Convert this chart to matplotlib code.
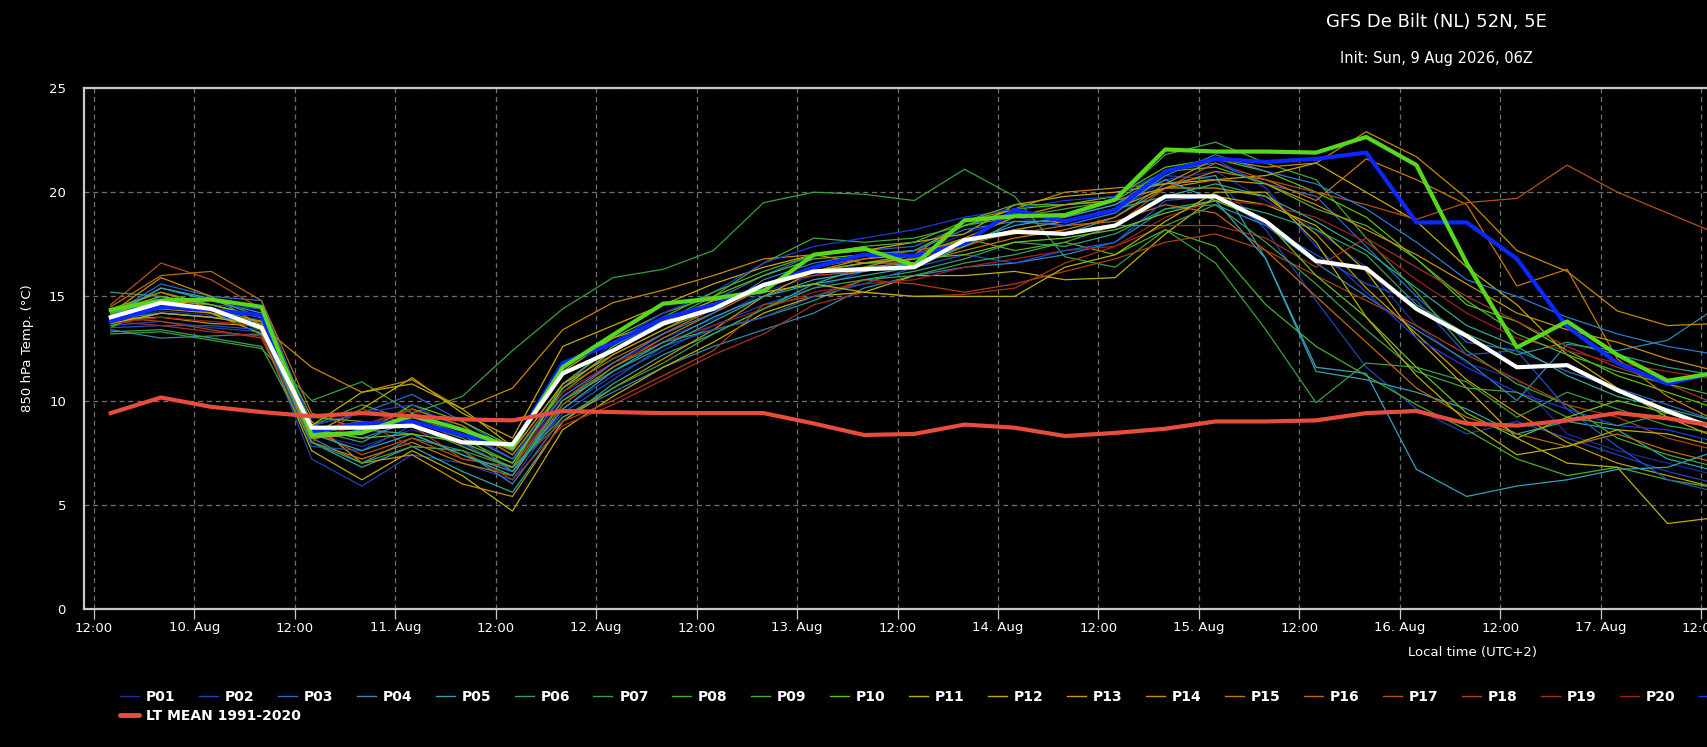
import datetime as dt
import matplotlib
matplotlib.use("Agg")
import matplotlib.pyplot as plt
import matplotlib.dates as mdates
from matplotlib.ticker import FuncFormatter, MultipleLocator
from matplotlib.lines import Line2D

# 6-hourly forecast steps, local time, first step 9 Aug 14:00
start = dt.datetime(2026, 8, 9, 14)
step_hours = 6

# ensemble perturbations, 850 hPa temperature (deg C)
p01 = [13.8, 14.3, 14.1, 13.9, 8.4, 7.8, 8.6, 7.9, 6.8, 10.2, 11.8, 13.0, 13.9, 15.2, 16.0, 16.6, 17.0,
       18.0, 18.8, 18.4, 19.0, 20.6, 21.0, 19.6, 18.2, 16.4, 13.6, 11.8, 11.0, 8.4, 7.6, 7.0, 6.4]
p02 = [13.6, 13.8, 13.5, 13.3, 7.2, 5.9, 7.4, 7.0, 6.2, 9.6, 11.2, 12.4, 13.6, 14.6, 15.4, 16.2, 16.9,
       17.6, 18.2, 18.6, 19.2, 20.8, 20.6, 18.2, 14.8, 11.6, 9.6, 8.4, 9.0, 8.2, 7.4, 6.6, 6.0]
p03 = [14.1, 15.6, 15.0, 14.8, 8.8, 9.4, 10.3, 9.0, 7.6, 10.8, 12.6, 13.8, 14.8, 16.0, 17.0, 17.2, 17.4,
       18.4, 19.0, 18.8, 19.4, 21.0, 21.4, 20.4, 19.8, 17.4, 15.0, 12.8, 12.4, 11.4, 10.6, 9.8, 9.0]
p04 = [13.4, 13.0, 13.1, 13.2, 8.2, 7.0, 8.2, 7.6, 6.0, 9.2, 10.4, 11.6, 12.6, 13.4, 14.2, 15.4, 16.0,
       16.4, 16.6, 17.0, 17.6, 19.2, 19.4, 18.4, 16.6, 15.0, 13.4, 11.9, 10.0, 12.7, 12.4, 12.9, 14.5]
p05 = [14.0, 15.4, 14.8, 14.2, 8.0, 6.8, 7.8, 6.6, 5.6, 9.0, 10.8, 12.2, 13.2, 14.4, 15.6, 16.4, 16.6,
       17.4, 18.2, 18.0, 18.8, 20.4, 20.8, 16.8, 11.4, 11.0, 10.4, 9.6, 8.4, 9.0, 8.6, 7.2, 6.6]
p06 = [15.2, 15.0, 14.2, 13.4, 8.6, 8.0, 9.2, 8.4, 6.6, 10.0, 11.6, 12.8, 13.4, 14.0, 14.8, 15.8, 16.2,
       16.8, 17.6, 17.4, 18.0, 19.2, 19.6, 19.0, 18.2, 17.0, 14.6, 13.2, 12.2, 12.8, 12.2, 11.6, 11.2]
p07 = [13.2, 13.3, 12.9, 12.5, 10.0, 10.9, 9.4, 10.2, 12.4, 14.4, 15.9, 16.3, 17.2, 19.5, 20.0, 19.9, 19.6,
       21.1, 19.8, 16.9, 16.4, 18.2, 16.6, 13.4, 9.9, 11.8, 11.6, 10.9, 9.2, 10.4, 9.6, 8.8, 8.4]
p08 = [13.5, 14.6, 14.4, 13.8, 8.8, 9.8, 9.0, 8.2, 7.0, 10.6, 12.4, 13.8, 15.0, 16.6, 17.8, 17.6, 17.8,
       18.4, 18.8, 19.2, 19.6, 21.8, 22.4, 21.4, 20.6, 17.8, 15.2, 12.4, 10.8, 9.8, 8.2, 7.4, 6.8]
p09 = [13.6, 14.2, 14.0, 13.7, 8.4, 8.8, 9.6, 8.8, 7.4, 10.4, 12.2, 13.4, 14.4, 15.4, 16.2, 16.6, 16.8,
       17.8, 17.2, 17.6, 17.0, 18.2, 17.4, 14.6, 12.6, 11.2, 9.8, 8.6, 7.2, 6.4, 6.8, 6.2, 5.8]
p10 = [14.4, 15.2, 14.6, 14.0, 8.2, 8.4, 9.8, 9.0, 7.8, 11.6, 13.0, 14.2, 15.0, 16.0, 16.8, 17.0, 17.2,
       18.4, 19.2, 19.4, 19.8, 21.2, 21.6, 21.0, 20.0, 18.8, 16.8, 14.6, 13.8, 12.4, 11.2, 10.4, 9.6]
p11 = [14.0, 14.6, 14.2, 13.2, 7.6, 6.2, 7.6, 6.4, 4.7, 8.6, 10.2, 11.6, 12.8, 14.2, 15.0, 15.2, 16.0,
       16.0, 16.2, 15.8, 15.9, 18.0, 19.8, 19.4, 18.4, 16.2, 13.0, 10.6, 8.2, 7.0, 6.8, 4.1, 4.4]
p12 = [14.2, 14.8, 14.6, 14.0, 8.4, 9.6, 11.1, 9.4, 8.2, 12.6, 13.6, 14.6, 15.6, 16.4, 17.0, 17.2, 17.6,
       18.0, 19.4, 19.8, 20.0, 20.4, 20.6, 20.8, 21.4, 20.0, 18.6, 16.4, 14.6, 12.2, 10.6, 9.2, 8.2]
p13 = [13.9, 14.0, 13.7, 13.6, 9.0, 7.0, 7.4, 6.0, 5.4, 9.0, 10.6, 12.0, 13.4, 15.0, 16.2, 16.8, 17.0,
       17.6, 18.2, 18.6, 19.2, 20.2, 20.2, 19.8, 18.0, 15.4, 13.2, 11.0, 9.4, 8.0, 7.0, 6.4, 5.8]
p14 = [14.2, 15.9, 15.0, 13.6, 11.6, 10.4, 11.0, 9.6, 10.6, 13.4, 14.7, 15.3, 16.0, 16.8, 17.0, 16.6, 17.0,
       18.6, 19.2, 20.0, 20.2, 20.4, 21.6, 21.2, 21.4, 22.9, 21.7, 19.7, 17.2, 16.2, 14.3, 13.6, 13.7]
p15 = [14.3, 15.2, 14.4, 13.4, 8.0, 7.2, 8.0, 7.0, 6.4, 9.8, 11.6, 13.0, 14.2, 15.4, 16.2, 16.6, 16.6,
       17.2, 17.8, 18.2, 18.8, 20.2, 21.0, 20.6, 19.6, 21.6, 20.6, 19.4, 15.5, 16.3, 12.0, 10.2, 9.0]
p16 = [14.5, 16.0, 16.2, 14.8, 9.4, 8.6, 9.6, 8.8, 7.4, 10.6, 12.0, 13.2, 14.4, 15.6, 16.4, 16.8, 17.2,
       17.6, 18.0, 18.4, 18.6, 19.4, 19.0, 17.2, 15.0, 12.8, 10.6, 9.2, 8.4, 7.8, 8.4, 7.6, 7.0]
p17 = [14.6, 16.6, 15.8, 14.4, 8.6, 7.4, 8.2, 7.2, 6.8, 10.0, 11.8, 13.2, 14.4, 15.6, 16.0, 16.2, 16.8,
       17.4, 18.2, 18.0, 18.4, 20.2, 21.4, 20.6, 20.0, 19.4, 18.7, 19.5, 19.7, 21.3, 20.0, 19.0, 18.0]
p18 = [14.0, 13.8, 13.4, 13.0, 8.0, 9.6, 8.8, 7.2, 6.8, 9.0, 10.0, 11.2, 12.4, 14.6, 15.0, 15.8, 15.6,
       15.2, 15.6, 16.2, 16.8, 17.6, 18.0, 17.2, 16.0, 14.8, 13.6, 12.2, 11.0, 9.8, 9.2, 8.2, 7.6]
p19 = [13.8, 13.6, 13.3, 13.1, 8.6, 9.0, 7.8, 7.6, 6.2, 8.8, 9.8, 11.0, 12.2, 13.2, 14.6, 15.2, 15.0,
       15.1, 15.4, 16.6, 17.4, 18.4, 18.4, 17.8, 16.4, 17.8, 16.4, 15.0, 13.8, 12.6, 11.6, 10.8, 9.8]
p20 = [13.7, 14.0, 13.8, 13.6, 8.2, 8.8, 9.6, 7.8, 6.8, 10.4, 11.8, 12.8, 13.6, 14.4, 15.2, 15.6, 15.8,
       16.4, 16.8, 17.2, 17.4, 18.8, 19.6, 19.4, 18.8, 17.6, 15.8, 14.2, 13.0, 12.4, 11.8, 11.4, 11.0]
p21 = [14.0, 15.0, 14.6, 14.4, 8.8, 9.4, 9.8, 8.6, 7.2, 10.6, 12.8, 14.2, 15.2, 16.6, 17.4, 17.8, 18.2,
       18.8, 19.2, 19.6, 19.8, 21.0, 21.6, 20.2, 17.4, 15.2, 13.0, 11.6, 10.4, 9.6, 8.8, 8.6, 8.0]
p22 = [13.5, 13.6, 13.6, 13.4, 7.8, 7.6, 8.8, 8.0, 6.6, 9.4, 11.0, 12.6, 13.4, 14.0, 15.0, 15.6, 16.4,
       17.0, 16.6, 17.2, 17.6, 19.6, 19.8, 18.4, 17.0, 15.6, 14.8, 12.2, 12.4, 9.6, 7.8, 6.2, 5.6]
p23 = [13.9, 14.2, 14.0, 13.8, 8.6, 8.2, 9.0, 8.4, 7.2, 10.2, 11.8, 13.2, 14.2, 15.8, 16.6, 17.0, 17.2,
       18.2, 18.6, 18.4, 19.0, 20.8, 21.8, 21.0, 20.4, 19.2, 17.6, 15.8, 15.0, 14.0, 13.2, 12.6, 12.2]
p24 = [14.1, 15.4, 14.9, 14.0, 8.4, 7.6, 8.4, 7.4, 6.6, 9.6, 11.4, 12.8, 14.0, 15.0, 15.8, 16.2, 16.6,
       17.6, 18.4, 18.8, 19.4, 20.6, 19.6, 16.8, 11.6, 11.3, 6.7, 5.4, 5.9, 6.2, 6.7, 6.8, 7.6]
p25 = [14.4, 14.8, 14.4, 13.4, 8.2, 8.6, 8.4, 7.4, 6.4, 10.0, 11.4, 12.6, 13.8, 15.0, 15.6, 16.0, 16.4,
       17.4, 18.6, 18.6, 19.2, 19.8, 20.4, 19.8, 18.6, 17.2, 15.4, 13.6, 12.6, 11.2, 10.2, 9.6, 9.0]
p26 = [13.3, 13.4, 13.0, 12.6, 8.0, 7.0, 7.8, 7.6, 6.8, 9.2, 10.6, 11.8, 13.2, 14.4, 15.4, 15.8, 16.0,
       16.6, 17.0, 17.6, 18.4, 18.4, 19.4, 17.6, 15.6, 13.4, 11.4, 10.6, 10.4, 9.2, 8.8, 9.4, 8.8]
p27 = [14.2, 14.6, 14.4, 14.0, 9.2, 9.0, 8.8, 7.8, 6.8, 10.8, 12.6, 14.0, 15.2, 16.2, 17.0, 17.4, 17.6,
       18.6, 19.4, 19.4, 19.6, 21.0, 21.2, 20.4, 19.2, 18.4, 16.8, 14.8, 13.2, 12.2, 11.4, 10.8, 10.2]
p28 = [14.3, 15.0, 14.6, 14.0, 8.6, 8.2, 8.4, 8.0, 7.0, 10.6, 12.4, 13.6, 14.6, 15.6, 16.2, 16.6, 16.8,
       17.0, 17.6, 17.8, 18.2, 19.0, 19.6, 18.6, 16.0, 14.0, 11.6, 9.4, 8.2, 9.2, 10.0, 9.4, 8.6]
p29 = [13.7, 14.2, 14.0, 13.6, 8.8, 10.4, 10.8, 9.6, 7.8, 11.4, 13.0, 13.8, 14.8, 15.2, 15.6, 15.2, 15.0,
       15.0, 15.0, 16.4, 17.0, 18.6, 20.0, 20.0, 17.6, 14.0, 11.2, 9.0, 7.4, 7.8, 8.6, 8.4, 7.8]
p30 = [14.0, 14.4, 14.2, 13.8, 8.2, 8.4, 9.2, 8.6, 7.6, 10.8, 12.2, 13.4, 14.6, 15.6, 16.2, 16.4, 17.0,
       17.8, 18.8, 19.4, 19.6, 20.2, 20.6, 20.4, 19.4, 18.2, 17.0, 15.6, 14.2, 13.4, 12.8, 12.0, 11.4]

oper = [13.8, 14.5, 14.35, 14.1, 8.5, 8.9, 9.0, 8.35, 7.8, 11.8, 12.75, 13.95, 14.6, 15.5, 16.4, 17.0, 16.95,
        17.55, 19.15, 18.6, 19.15, 21.0, 21.6, 21.45, 21.6, 21.9, 18.55, 18.55, 16.8, 13.55, 11.8, 10.8, 11.4]
control = [14.35, 14.8, 14.85, 14.5, 8.35, 8.45, 9.3, 8.6, 7.75, 11.6, 13.15, 14.65, 14.9, 15.25, 17.0, 17.3, 16.5,
           18.65, 18.85, 18.9, 19.65, 22.05, 21.95, 21.95, 21.9, 22.65, 21.3, 16.6, 12.55, 13.8, 12.2, 10.95, 11.35]
ens_mean = [14.0, 14.7, 14.4, 13.5, 8.7, 8.7, 8.8, 8.0, 7.9, 11.3, 12.4, 13.7, 14.4, 15.55, 16.2, 16.3, 16.4,
            17.7, 18.1, 18.0, 18.4, 19.8, 19.8, 18.6, 16.7, 16.35, 14.4, 13.1, 11.6, 11.7, 10.5, 9.5, 8.6]
lt_mean = [9.4, 10.15, 9.7, 9.45, 9.25, 9.4, 9.25, 9.1, 9.05, 9.5, 9.45, 9.4, 9.4, 9.4, 8.9, 8.35, 8.4,
           8.85, 8.7, 8.3, 8.45, 8.65, 9.0, 9.0, 9.05, 9.4, 9.5, 8.9, 8.8, 9.05, 9.4, 9.15, 8.75]

members = [p01, p02, p03, p04, p05, p06, p07, p08, p09, p10,
           p11, p12, p13, p14, p15, p16, p17, p18, p19, p20,
           p21, p22, p23, p24, p25, p26, p27, p28, p29, p30]
member_names = ['P{:02d}'.format(k + 1) for k in range(len(members))]
member_colors = ['#1f2c9c', '#2242b4', '#2a6cc4', '#3088b4', '#30a4a8',
                 '#30a070', '#38a040', '#40a838', '#48b028', '#60c010',
                 '#c0b000', '#c8a800', '#c89800', '#c88a00', '#c87800',
                 '#c06a10', '#b85010', '#b04010', '#a83020', '#a02020',
                 '#1a3ae0', '#2050c8', '#2c7ad0', '#34a0c0', '#30a890',
                 '#40a048', '#50b030', '#70c020', '#b8b000', '#c89010']

W, H = 1707, 747
px_per_hour = 8.37

times = [start + dt.timedelta(hours=step_hours * i) for i in range(len(ens_mean))]

fig = plt.figure(figsize=(W / 100, H / 100), dpi=100, facecolor='black')
# the chart is wider than the picture: the axes run on past the right edge
ax_left, ax_right, ax_top, ax_bottom = 84, 2862, 88, 609
ax = fig.add_axes([ax_left / W, (H - ax_bottom) / H,
                   (ax_right - ax_left) / W, (ax_bottom - ax_top) / H])
ax.set_facecolor('black')

lines = []
for vals, name, col in zip(members, member_names, member_colors):
    ln, = ax.plot(times, vals, color=col, lw=0.9, label=name, solid_joinstyle='round')
    lines.append(ln)
ln_oper, = ax.plot(times, oper, color='#0a28ff', lw=3, label='GFS Oper', solid_joinstyle='round')
ln_ctrl, = ax.plot(times, control, color='#55d81f', lw=3, label='Control', solid_joinstyle='round')
ln_mean, = ax.plot(times, ens_mean, color='white', lw=3, label='Mean', solid_joinstyle='round')
ln_lt, = ax.plot(times, lt_mean, color='#e84c3d', lw=3, label='LT MEAN 1991-2020', solid_joinstyle='round')

# axis limits
noon = dt.datetime(2026, 8, 9, 12)
x0 = noon - dt.timedelta(hours=10 / px_per_hour)
x1 = x0 + dt.timedelta(hours=(ax_right - ax_left) / px_per_hour)
ax.set_xlim(x0, x1)
ax.set_ylim(0, 25)
ax.yaxis.set_major_locator(MultipleLocator(5))

# labels past the picture edge are never seen, so leave them out
visible_end = mdates.date2num(x0 + dt.timedelta(hours=(W - ax_left + 20) / px_per_hour))


def time_label(x, pos):
    if x > visible_end:
        return ''
    d = mdates.num2date(x)
    if d.hour == 0:
        return '{}. {}'.format(d.day, d.strftime('%b'))
    return d.strftime('%H:%M')


ax.xaxis.set_major_locator(mdates.HourLocator(byhour=[0, 12]))
ax.xaxis.set_major_formatter(FuncFormatter(time_label))

ax.grid(True, color='#707070', lw=0.9, linestyle=(0, (4, 3)))
ax.set_axisbelow(True)
for side in ['left', 'top', 'bottom']:
    ax.spines[side].set_color('#c8c8c8')
    ax.spines[side].set_linewidth(1.6)
ax.spines['right'].set_visible(False)

ax.tick_params(axis='x', colors='#c8c8c8', length=7, width=0.9, pad=2,
               labelcolor='white', labelsize=9.5)
ax.tick_params(axis='y', length=0, pad=13, labelcolor='white', labelsize=9.5)

ax.set_ylabel('850 hPa Temp. (°C)', color='white', fontsize=9.5, va='center')
ax.yaxis.set_label_coords(-56 / (ax_right - ax_left), 0.5)
ax.set_xlabel('Local time (UTC+2)', color='white', fontsize=9.5)
ax.xaxis.set_label_coords(0.5, -37 / (ax_bottom - ax_top))

fig.text(1436 / W, 1 - 22 / H, 'GFS De Bilt (NL) 52N, 5E', color='white',
         fontsize=13, ha='center', va='center')
fig.text(1436 / W, 1 - 58 / H, 'Init: Sun, 9 Aug 2026, 06Z', color='white',
         fontsize=10.5, ha='center', va='center')

# legend row 1: only the part that falls inside the picture (P21 shows just its line)
legend_font = {'weight': 'bold', 'size': 10}
row1 = lines[:21]
row1_labels = member_names[:20] + ['']
leg1 = fig.legend(handles=row1, labels=row1_labels, loc='center left',
                  bbox_to_anchor=(120 / W, 1 - 697 / H),
                  ncol=len(row1), frameon=False, prop=legend_font, labelcolor='white',
                  handlelength=1.37, handletextpad=0.5, columnspacing=1.68,
                  borderpad=0, borderaxespad=0)
for h in leg1.legend_handles:
    h.set_linewidth(1.0)
lt_handle = Line2D([], [], color='#e84c3d', lw=3.5, solid_capstyle='round')
fig.legend(handles=[lt_handle], labels=['LT MEAN 1991-2020'], loc='center left',
           bbox_to_anchor=(120 / W, 1 - 716 / H), frameon=False, prop=legend_font,
           labelcolor='white', handlelength=1.37, handletextpad=0.5,
           borderpad=0, borderaxespad=0)

fig.savefig('out.png', dpi=100, facecolor='black')
